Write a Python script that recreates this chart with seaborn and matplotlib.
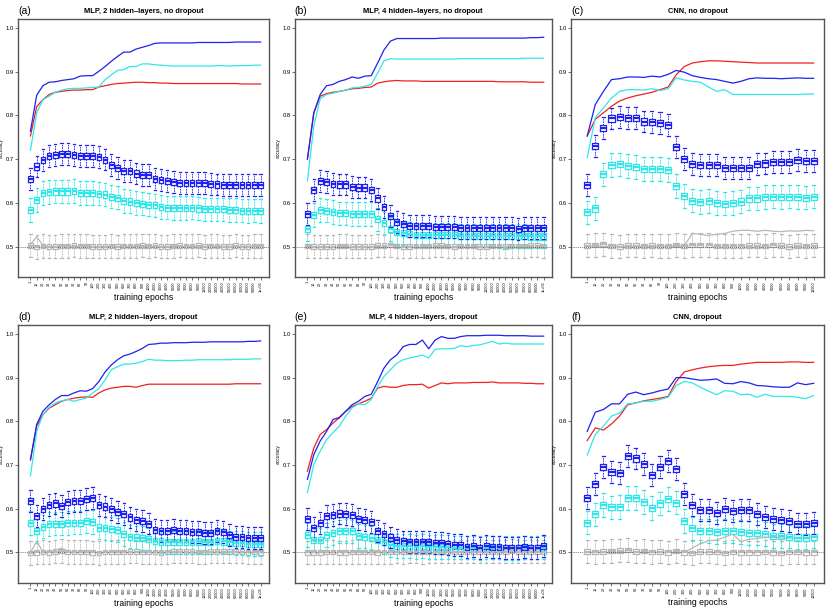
import numpy as np
import pandas as pd
import matplotlib
matplotlib.use("Agg")
import matplotlib.pyplot as plt
import seaborn as sns

# x categories
mlp_epochs = (['1', '10', '20', '30', '40', '50', '60', '70', '80', '90', '100',
               '200', '300', '400', '500', '600', '700', '800', '900', '1000',
               '2000', '3000', '4000', '5000', '6000', '7000', '8000', '9000', '10000',
               '20000', '30000', '40000', '50000', '60000', '70000', '80000', '90000', '1e+05'])
cnn_epochs = mlp_epochs[:29]

# ---- (a) MLP, 2 hidden-layers, no dropout ----
blue_line_a = [0.764, 0.846, 0.868, 0.876, 0.877, 0.880, 0.882, 0.884, 0.890, 0.891,
               0.891, 0.901, 0.912, 0.924, 0.935, 0.945, 0.945, 0.952, 0.956, 0.960,
               0.965, 0.966, 0.966, 0.966, 0.966, 0.966, 0.966, 0.967, 0.967, 0.967,
               0.967, 0.967, 0.967, 0.968, 0.968, 0.968, 0.968, 0.968]
cyan_line_a = [0.720, 0.806, 0.836, 0.844, 0.853, 0.858, 0.861, 0.862, 0.862, 0.863,
               0.864, 0.865, 0.882, 0.893, 0.903, 0.905, 0.912, 0.912, 0.918, 0.918,
               0.916, 0.915, 0.914, 0.913, 0.913, 0.913, 0.913, 0.913, 0.913, 0.913,
               0.914, 0.914, 0.913, 0.914, 0.914, 0.914, 0.915, 0.915]
red_line_a = [0.753, 0.820, 0.836, 0.848, 0.853, 0.855, 0.857, 0.858, 0.858, 0.859,
              0.859, 0.865, 0.868, 0.871, 0.873, 0.874, 0.875, 0.876, 0.876, 0.875,
              0.875, 0.874, 0.874, 0.873, 0.873, 0.873, 0.873, 0.873, 0.873, 0.873,
              0.873, 0.873, 0.873, 0.873, 0.872, 0.872, 0.872, 0.872]
gray_line_a = [0.505, 0.522, 0.503, 0.500, 0.500, 0.500, 0.500, 0.500, 0.500, 0.500,
               0.500, 0.500, 0.500, 0.500, 0.500, 0.500, 0.500, 0.500, 0.500, 0.500,
               0.500, 0.500, 0.500, 0.500, 0.500, 0.500, 0.500, 0.500, 0.500, 0.500,
               0.500, 0.500, 0.500, 0.500, 0.500, 0.500, 0.500, 0.500]
blue_box_a = [0.654, 0.683, 0.698, 0.707, 0.709, 0.712, 0.711, 0.709, 0.707, 0.707,
              0.708, 0.705, 0.699, 0.686, 0.680, 0.672, 0.672, 0.667, 0.664, 0.663,
              0.654, 0.652, 0.649, 0.648, 0.646, 0.646, 0.646, 0.645, 0.645, 0.644,
              0.642, 0.641, 0.641, 0.641, 0.640, 0.640, 0.640, 0.640]
cyan_box_a = [0.583, 0.607, 0.622, 0.625, 0.626, 0.626, 0.626, 0.627, 0.623, 0.623,
              0.623, 0.621, 0.619, 0.614, 0.612, 0.604, 0.603, 0.600, 0.598, 0.596,
              0.594, 0.591, 0.589, 0.588, 0.588, 0.588, 0.589, 0.587, 0.585, 0.585,
              0.585, 0.585, 0.584, 0.583, 0.582, 0.581, 0.582, 0.581]
gray_box_a = [0.502, 0.499, 0.501, 0.500, 0.500, 0.501, 0.501, 0.502, 0.501, 0.501,
              0.500, 0.500, 0.500, 0.501, 0.500, 0.501, 0.501, 0.501, 0.502, 0.501,
              0.502, 0.500, 0.500, 0.501, 0.502, 0.501, 0.501, 0.502, 0.500, 0.501,
              0.501, 0.500, 0.500, 0.502, 0.500, 0.500, 0.501, 0.501]

# ---- (b) MLP, 4 hidden-layers, no dropout ----
blue_line_b = [0.700, 0.806, 0.848, 0.868, 0.871, 0.878, 0.882, 0.888, 0.885, 0.890,
               0.891, 0.920, 0.950, 0.970, 0.976, 0.976, 0.976, 0.976, 0.976, 0.976,
               0.976, 0.977, 0.977, 0.977, 0.977, 0.977, 0.977, 0.977, 0.977, 0.977,
               0.977, 0.977, 0.977, 0.977, 0.977, 0.978, 0.978, 0.979]
cyan_line_b = [0.650, 0.776, 0.838, 0.848, 0.851, 0.855, 0.858, 0.863, 0.864, 0.867,
               0.871, 0.897, 0.925, 0.930, 0.929, 0.929, 0.929, 0.929, 0.929, 0.929,
               0.929, 0.929, 0.929, 0.929, 0.930, 0.930, 0.930, 0.930, 0.930, 0.930,
               0.930, 0.930, 0.930, 0.930, 0.931, 0.931, 0.931, 0.931]
red_line_b = [0.700, 0.806, 0.844, 0.850, 0.853, 0.855, 0.858, 0.861, 0.862, 0.864,
              0.865, 0.874, 0.877, 0.879, 0.880, 0.879, 0.879, 0.879, 0.878, 0.878,
              0.878, 0.878, 0.878, 0.878, 0.878, 0.878, 0.878, 0.878, 0.878, 0.878,
              0.877, 0.877, 0.877, 0.877, 0.877, 0.876, 0.876, 0.876]
gray_line_b = [0.500] * 38
blue_box_b = [0.575, 0.630, 0.650, 0.648, 0.644, 0.642, 0.642, 0.636, 0.635, 0.635,
              0.629, 0.610, 0.591, 0.570, 0.557, 0.551, 0.547, 0.547, 0.547, 0.547,
              0.545, 0.545, 0.544, 0.544, 0.543, 0.543, 0.543, 0.543, 0.543, 0.543,
              0.543, 0.542, 0.542, 0.541, 0.542, 0.542, 0.542, 0.543]
cyan_box_b = [0.540, 0.572, 0.584, 0.582, 0.579, 0.576, 0.576, 0.575, 0.575, 0.575,
              0.575, 0.562, 0.553, 0.540, 0.533, 0.530, 0.528, 0.527, 0.527, 0.527,
              0.527, 0.526, 0.526, 0.526, 0.525, 0.525, 0.525, 0.525, 0.525, 0.525,
              0.524, 0.524, 0.524, 0.524, 0.524, 0.523, 0.523, 0.523]
gray_box_b = [0.501, 0.500, 0.500, 0.500, 0.500, 0.501, 0.501, 0.500, 0.500, 0.500,
              0.500, 0.502, 0.502, 0.503, 0.501, 0.500, 0.500, 0.501, 0.501, 0.501,
              0.502, 0.502, 0.501, 0.500, 0.501, 0.501, 0.501, 0.500, 0.500, 0.501,
              0.501, 0.500, 0.501, 0.501, 0.501, 0.502, 0.502, 0.501]

# ---- (c) CNN, no dropout ----
blue_line_c = [0.753, 0.825, 0.855, 0.882, 0.884, 0.888, 0.888, 0.887, 0.890, 0.888,
               0.894, 0.903, 0.899, 0.891, 0.887, 0.884, 0.882, 0.878, 0.874, 0.878,
               0.884, 0.886, 0.885, 0.885, 0.884, 0.885, 0.886, 0.885, 0.885]
cyan_line_c = [0.703, 0.795, 0.817, 0.840, 0.855, 0.859, 0.859, 0.858, 0.861, 0.857,
               0.861, 0.886, 0.881, 0.878, 0.876, 0.865, 0.855, 0.859, 0.848, 0.848,
               0.848, 0.848, 0.848, 0.848, 0.848, 0.848, 0.848, 0.849, 0.849]
red_line_c = [0.753, 0.791, 0.806, 0.821, 0.833, 0.840, 0.845, 0.849, 0.853, 0.859,
              0.865, 0.893, 0.912, 0.920, 0.923, 0.925, 0.925, 0.924, 0.923, 0.922,
              0.921, 0.920, 0.920, 0.920, 0.920, 0.920, 0.920, 0.920, 0.920]
gray_line_c = [0.500, 0.500, 0.500, 0.500, 0.500, 0.500, 0.500, 0.500, 0.500, 0.500,
               0.500, 0.500, 0.502, 0.530, 0.528, 0.525, 0.528, 0.530, 0.535, 0.537,
               0.537, 0.535, 0.537, 0.535, 0.534, 0.536, 0.535, 0.537, 0.536]
blue_box_c = [0.640, 0.730, 0.772, 0.793, 0.797, 0.794, 0.795, 0.786, 0.785, 0.783,
              0.779, 0.728, 0.701, 0.688, 0.686, 0.686, 0.686, 0.680, 0.680, 0.679,
              0.680, 0.688, 0.690, 0.694, 0.693, 0.694, 0.698, 0.696, 0.696]
cyan_box_c = [0.578, 0.587, 0.665, 0.686, 0.688, 0.684, 0.682, 0.678, 0.678, 0.677,
              0.675, 0.639, 0.616, 0.605, 0.602, 0.604, 0.599, 0.598, 0.599, 0.603,
              0.610, 0.610, 0.613, 0.614, 0.613, 0.614, 0.613, 0.612, 0.614]
gray_box_c = [0.502, 0.503, 0.505, 0.501, 0.500, 0.502, 0.502, 0.501, 0.502, 0.501,
              0.501, 0.503, 0.501, 0.503, 0.503, 0.503, 0.501, 0.501, 0.501, 0.501,
              0.502, 0.502, 0.501, 0.503, 0.502, 0.500, 0.502, 0.501, 0.502]

# ---- (d) MLP, 2 hidden-layers, dropout ----
blue_line_d = [0.712, 0.793, 0.823, 0.838, 0.850, 0.859, 0.859, 0.865, 0.870, 0.869,
               0.875, 0.891, 0.913, 0.929, 0.941, 0.950, 0.954, 0.960, 0.967, 0.976,
               0.977, 0.979, 0.979, 0.980, 0.980, 0.980, 0.981, 0.981, 0.981, 0.982,
               0.982, 0.982, 0.982, 0.982, 0.982, 0.983, 0.983, 0.984]
cyan_line_d = [0.675, 0.777, 0.815, 0.832, 0.842, 0.847, 0.850, 0.846, 0.850, 0.853,
               0.865, 0.875, 0.895, 0.918, 0.925, 0.931, 0.931, 0.933, 0.937, 0.942,
               0.940, 0.940, 0.939, 0.939, 0.939, 0.940, 0.940, 0.941, 0.941, 0.941,
               0.941, 0.941, 0.941, 0.942, 0.942, 0.942, 0.943, 0.943]
red_line_d = [0.712, 0.789, 0.815, 0.830, 0.838, 0.846, 0.850, 0.853, 0.855, 0.856,
              0.855, 0.865, 0.872, 0.876, 0.878, 0.880, 0.880, 0.878, 0.882, 0.885,
              0.885, 0.885, 0.885, 0.885, 0.885, 0.885, 0.885, 0.885, 0.885, 0.885,
              0.885, 0.885, 0.885, 0.886, 0.886, 0.886, 0.886, 0.886]
gray_line_d = [0.500, 0.525, 0.502, 0.500, 0.505, 0.510, 0.503, 0.500, 0.500, 0.500,
               0.500, 0.500, 0.500, 0.500, 0.500, 0.500, 0.500, 0.500, 0.500, 0.500,
               0.500, 0.500, 0.500, 0.500, 0.500, 0.500, 0.500, 0.500, 0.500, 0.500,
               0.500, 0.500, 0.500, 0.500, 0.500, 0.500, 0.500, 0.500]
blue_box_d = [0.618, 0.584, 0.599, 0.609, 0.612, 0.606, 0.616, 0.618, 0.618, 0.623,
              0.625, 0.609, 0.605, 0.599, 0.593, 0.587, 0.580, 0.574, 0.572, 0.566,
              0.551, 0.549, 0.549, 0.551, 0.549, 0.549, 0.546, 0.546, 0.544, 0.544,
              0.549, 0.546, 0.540, 0.536, 0.536, 0.533, 0.533, 0.533]
cyan_box_d = [0.567, 0.549, 0.559, 0.565, 0.566, 0.566, 0.567, 0.568, 0.568, 0.571,
              0.570, 0.557, 0.555, 0.553, 0.551, 0.542, 0.536, 0.534, 0.533, 0.530,
              0.527, 0.525, 0.523, 0.523, 0.523, 0.523, 0.523, 0.525, 0.524, 0.523,
              0.527, 0.525, 0.523, 0.521, 0.521, 0.519, 0.519, 0.519]
gray_box_d = [0.499, 0.500, 0.501, 0.500, 0.502, 0.503, 0.501, 0.501, 0.501, 0.501,
              0.500, 0.499, 0.501, 0.501, 0.501, 0.501, 0.502, 0.502, 0.501, 0.501,
              0.501, 0.500, 0.501, 0.502, 0.502, 0.502, 0.502, 0.501, 0.501, 0.502,
              0.502, 0.502, 0.502, 0.502, 0.502, 0.500, 0.501, 0.500]

# ---- (e) MLP, 4 hidden-layers, dropout ----
blue_line_e = [0.667, 0.724, 0.755, 0.777, 0.804, 0.809, 0.823, 0.838, 0.846, 0.857,
               0.862, 0.891, 0.922, 0.941, 0.952, 0.971, 0.976, 0.976, 0.986, 0.966,
               0.986, 0.994, 0.990, 0.990, 0.994, 0.996, 0.996, 0.996, 0.997, 0.997,
               0.997, 0.996, 0.996, 0.996, 0.996, 0.995, 0.995, 0.995]
cyan_line_e = [0.637, 0.701, 0.732, 0.758, 0.774, 0.789, 0.812, 0.831, 0.840, 0.838,
               0.850, 0.880, 0.903, 0.918, 0.933, 0.941, 0.945, 0.948, 0.952, 0.945,
               0.965, 0.966, 0.966, 0.967, 0.973, 0.971, 0.974, 0.975, 0.979, 0.983,
               0.977, 0.979, 0.977, 0.977, 0.977, 0.977, 0.977, 0.977]
red_line_e = [0.686, 0.739, 0.770, 0.781, 0.796, 0.808, 0.823, 0.834, 0.840, 0.846,
              0.853, 0.876, 0.880, 0.878, 0.878, 0.882, 0.884, 0.884, 0.885, 0.876,
              0.882, 0.888, 0.886, 0.888, 0.888, 0.888, 0.889, 0.889, 0.889, 0.890,
              0.888, 0.888, 0.888, 0.888, 0.887, 0.887, 0.886, 0.886]
gray_line_e = [0.500] * 38
blue_box_e = [0.576, 0.555, 0.568, 0.584, 0.586, 0.589, 0.587, 0.586, 0.576, 0.574,
              0.570, 0.549, 0.542, 0.534, 0.528, 0.525, 0.524, 0.523, 0.523, 0.523,
              0.521, 0.521, 0.519, 0.517, 0.517, 0.513, 0.515, 0.511, 0.515, 0.513,
              0.513, 0.511, 0.511, 0.511, 0.513, 0.511, 0.511, 0.514]
cyan_box_e = [0.540, 0.528, 0.528, 0.540, 0.544, 0.548, 0.549, 0.548, 0.538, 0.536,
              0.534, 0.528, 0.523, 0.517, 0.515, 0.515, 0.514, 0.513, 0.514, 0.513,
              0.513, 0.512, 0.512, 0.511, 0.511, 0.511, 0.511, 0.510, 0.511, 0.511,
              0.511, 0.510, 0.510, 0.510, 0.511, 0.511, 0.511, 0.511]
gray_box_e = [0.500, 0.500, 0.500, 0.501, 0.501, 0.500, 0.500, 0.501, 0.501, 0.501,
              0.501, 0.500, 0.501, 0.501, 0.502, 0.501, 0.502, 0.502, 0.501, 0.502,
              0.502, 0.502, 0.502, 0.502, 0.502, 0.502, 0.502, 0.502, 0.502, 0.502,
              0.502, 0.502, 0.503, 0.502, 0.502, 0.502, 0.502, 0.502]

# ---- (f) CNN, dropout ----
blue_line_f = [0.777, 0.821, 0.827, 0.840, 0.840, 0.862, 0.867, 0.861, 0.865, 0.870,
               0.874, 0.900, 0.900, 0.897, 0.894, 0.895, 0.897, 0.887, 0.886, 0.891,
               0.888, 0.882, 0.881, 0.879, 0.878, 0.878, 0.888, 0.884, 0.887]
cyan_line_f = [0.723, 0.770, 0.789, 0.812, 0.819, 0.840, 0.842, 0.846, 0.846, 0.850,
               0.855, 0.882, 0.891, 0.888, 0.878, 0.869, 0.861, 0.870, 0.869, 0.861,
               0.862, 0.855, 0.862, 0.857, 0.857, 0.857, 0.855, 0.852, 0.859]
red_line_f = [0.756, 0.785, 0.780, 0.794, 0.812, 0.838, 0.842, 0.847, 0.850, 0.853,
              0.857, 0.891, 0.913, 0.918, 0.922, 0.925, 0.927, 0.928, 0.928, 0.931,
              0.933, 0.935, 0.935, 0.935, 0.935, 0.936, 0.936, 0.935, 0.935]
gray_line_f = [0.500, 0.500, 0.500, 0.500, 0.500, 0.500, 0.500, 0.500, 0.500, 0.500,
               0.500, 0.500, 0.500, 0.510, 0.520, 0.527, 0.528, 0.535, 0.542, 0.525,
               0.530, 0.532, 0.535, 0.534, 0.533, 0.533, 0.534, 0.534, 0.535]
blue_box_f = [0.624, 0.656, 0.696, 0.684, 0.682, 0.720, 0.715, 0.703, 0.677, 0.696,
              0.710, 0.690, 0.633, 0.609, 0.597, 0.597, 0.591, 0.599, 0.595, 0.597,
              0.597, 0.587, 0.581, 0.576, 0.574, 0.571, 0.566, 0.565, 0.568]
cyan_box_f = [0.568, 0.587, 0.609, 0.603, 0.604, 0.625, 0.624, 0.616, 0.601, 0.612,
              0.622, 0.614, 0.572, 0.555, 0.549, 0.549, 0.547, 0.549, 0.549, 0.547,
              0.544, 0.544, 0.542, 0.538, 0.538, 0.536, 0.534, 0.534, 0.536]
gray_box_f = [0.502, 0.501, 0.502, 0.503, 0.504, 0.505, 0.502, 0.503, 0.501, 0.502,
              0.500, 0.503, 0.500, 0.499, 0.502, 0.502, 0.501, 0.499, 0.501, 0.500,
              0.500, 0.500, 0.501, 0.500, 0.499, 0.501, 0.501, 0.500, 0.500]

# rough box spread (half box height, whisker reach)
box_half = {'gray': 0.005, 'cyan': 0.007, 'blue': 0.007}
whisker = {'gray': 0.027, 'cyan': 0.027, 'blue': 0.025}

colors = {'blue': '#2020f0', 'cyan': '#30e8e8', 'red': '#f02020', 'gray': '#b8b8b8'}

plt.rcParams['font.family'] = ['Liberation Sans', 'DejaVu Sans']


def draw_panel(ax, letter, title, epochs, lines, boxes):
    rows = []
    for name in ['gray', 'cyan', 'blue']:
        q, w = box_half[name], whisker[name]
        for ep, m in zip(epochs, boxes[name]):
            for v in (m - w, m - q, m, m + q, m + w):
                rows.append((ep, name, v))
    df = pd.DataFrame(rows, columns=['epoch', 'series', 'accuracy'])

    sns.boxplot(data=df, x='epoch', y='accuracy', hue='series', order=epochs,
                hue_order=['gray', 'cyan', 'blue'], palette=colors, dodge=False,
                fill=False, whis=np.inf, width=0.75, linewidth=0.9,
                medianprops=dict(linewidth=1.6),
                whiskerprops=dict(linestyle=(0, (2, 1)), linewidth=0.6),
                legend=False, ax=ax)

    x = np.arange(len(epochs))
    for name in ['gray', 'red', 'cyan', 'blue']:
        sns.lineplot(x=x, y=lines[name], color=colors[name], linewidth=0.9, ax=ax)

    ax.axhline(0.5, color='#444444', linestyle=(0, (1, 1.5)), linewidth=0.6)
    ax.set_xlim(-2.0, len(epochs) - 1 + 1.3)
    ax.set_ylim(0.43, 1.021)
    ax.set_yticks([0.5, 0.6, 0.7, 0.8, 0.9, 1.0])
    ax.set_yticklabels(['0.5', '0.6', '0.7', '0.8', '0.9', '1.0'], fontsize=4.2)
    ax.set_xticks(x)
    ax.set_xticklabels(epochs, rotation=90, fontsize=2.7)
    ax.tick_params(length=2, width=0.5, pad=1, color='#333333')
    ax.set_xlabel('training epochs', fontsize=6.2, labelpad=0.5)
    ax.set_ylabel('accuracy', fontsize=3.5, labelpad=1.2)
    for s in ax.spines.values():
        s.set_color('#555555')
        s.set_linewidth(1.0)
    ax.set_title(title, fontsize=5.4, fontweight='bold', pad=4)
    ax.text(0.0, 1.012, letter, transform=ax.transAxes, fontsize=7.5,
            ha='left', va='bottom')


fig = plt.figure(figsize=(8.3, 6.09), dpi=100)
lefts = [0.0217, 0.355, 0.688]
widths = [0.302, 0.310, 0.305]
bottoms = [0.545, 0.0427]
height = 0.424

panels = [
    ('(a)', 'MLP, 2 hidden\u2013layers, no dropout', mlp_epochs,
     {'blue': blue_line_a, 'cyan': cyan_line_a, 'red': red_line_a, 'gray': gray_line_a},
     {'blue': blue_box_a, 'cyan': cyan_box_a, 'gray': gray_box_a}),
    ('(b)', 'MLP, 4 hidden\u2013layers, no dropout', mlp_epochs,
     {'blue': blue_line_b, 'cyan': cyan_line_b, 'red': red_line_b, 'gray': gray_line_b},
     {'blue': blue_box_b, 'cyan': cyan_box_b, 'gray': gray_box_b}),
    ('(c)', 'CNN, no dropout', cnn_epochs,
     {'blue': blue_line_c, 'cyan': cyan_line_c, 'red': red_line_c, 'gray': gray_line_c},
     {'blue': blue_box_c, 'cyan': cyan_box_c, 'gray': gray_box_c}),
    ('(d)', 'MLP, 2 hidden\u2013layers, dropout', mlp_epochs,
     {'blue': blue_line_d, 'cyan': cyan_line_d, 'red': red_line_d, 'gray': gray_line_d},
     {'blue': blue_box_d, 'cyan': cyan_box_d, 'gray': gray_box_d}),
    ('(e)', 'MLP, 4 hidden\u2013layers, dropout', mlp_epochs,
     {'blue': blue_line_e, 'cyan': cyan_line_e, 'red': red_line_e, 'gray': gray_line_e},
     {'blue': blue_box_e, 'cyan': cyan_box_e, 'gray': gray_box_e}),
    ('(f)', 'CNN, dropout', cnn_epochs,
     {'blue': blue_line_f, 'cyan': cyan_line_f, 'red': red_line_f, 'gray': gray_line_f},
     {'blue': blue_box_f, 'cyan': cyan_box_f, 'gray': gray_box_f}),
]

for k, (letter, title, epochs, lines, boxes) in enumerate(panels):
    row, col = divmod(k, 3)
    ax = fig.add_axes([lefts[col], bottoms[row], widths[col], height])
    draw_panel(ax, letter, title, epochs, lines, boxes)

fig.savefig('out.png', dpi=100, facecolor='white')
